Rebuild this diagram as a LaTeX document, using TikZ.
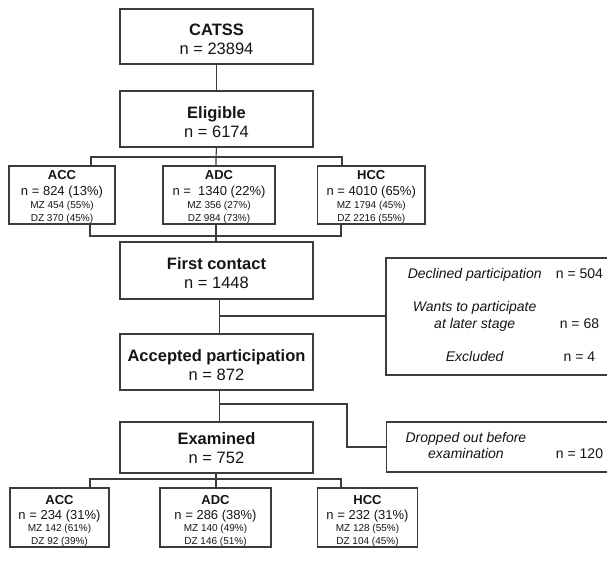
\documentclass[tikz,border=0pt]{standalone}
\usepackage{fontspec}
\setmainfont{Liberation Sans}
\definecolor{linecol}{HTML}{3C3C3C}
\definecolor{txtcol}{HTML}{151515}
\newcommand{\bigfont}{\fontsize{16.5}{19}\selectfont}
\newcommand{\midfont}{\fontsize{13}{15}\selectfont}
\newcommand{\sidefont}{\fontsize{14}{16.6}\selectfont}
\begin{document}
\begin{tikzpicture}[x=1pt,y=-1pt,
  box/.style={draw=linecol, line width=1.1pt, fill=white, inner sep=0pt, align=center, text=txtcol},
  bigbox/.style={box, minimum width=193pt, font=\bigfont},
  smallbox/.style={box, minimum height=58pt, font=\fontsize{10}{13}\selectfont},
  sidebox/.style={box, minimum width=226pt, font=\sidefont},
  conn/.style={draw=linecol, line width=1.1pt}]
\fill[white] (0,0) rectangle (607,581);
\useasboundingbox (0,0) rectangle (607,581);

% main column
\node[bigbox, minimum height=55pt] (catss) at (216.5,36.5) {\rule{0pt}{17.8pt}\bfseries CATSS\\ n = 23894};
\node[bigbox, minimum height=56pt] (elig) at (216.5,119) {\rule{0pt}{17.8pt}\bfseries Eligible\\ n = 6174};
\node[bigbox, minimum height=57pt] (first) at (216.5,270.5) {\rule{0pt}{17.8pt}\bfseries First contact\\ n = 1448};
\node[bigbox, minimum height=56pt] (accp) at (216.5,362) {\rule{0pt}{17.8pt}\bfseries Accepted participation\\ n = 872};
\node[bigbox, minimum height=51pt] (exam) at (216.5,447.5) {\rule{0pt}{13pt}\bfseries Examined\\ n = 752};

% first row of groups
\node[smallbox, minimum width=106pt] (acc1) at (62,195) {{\midfont\rule{0pt}{12.3pt}\bfseries ACC}\\[3.5pt]{\midfont n = 824 (13\%)}\\[-0.5pt]MZ 454 (55\%)\\DZ 370 (45\%)};
\node[smallbox, minimum width=112pt] (adc1) at (219,195) {{\midfont\rule{0pt}{12.3pt}\bfseries ADC}\\[3.5pt]{\midfont n =\ \ 1340 (22\%)}\\[-0.5pt]MZ 356 (27\%)\\DZ 984 (73\%)};
\node[smallbox, minimum width=107.5pt] (hcc1) at (371.25,195) {{\midfont\rule{0pt}{12.3pt}\bfseries HCC}\\[3.5pt]{\midfont n = 4010 (65\%)}\\[-0.5pt]MZ 1794 (45\%)\\DZ 2216 (55\%)};

% second row of groups
\node[smallbox, minimum width=99pt, minimum height=59pt] (acc2) at (59.5,517.5) {{\midfont\rule{0pt}{17pt}\bfseries ACC}\\[1.5pt]{\midfont n = 234 (31\%)}\\[-0.5pt]MZ 142 (61\%)\\DZ 92 (39\%)};
\node[smallbox, minimum width=111pt, minimum height=59pt] (adc2) at (215.5,517.5) {{\midfont\rule{0pt}{17pt}\bfseries ADC}\\[1.5pt]{\midfont n = 286 (38\%)}\\[-0.5pt]MZ 140 (49\%)\\DZ 146 (51\%)};
\node[smallbox, minimum width=100pt, minimum height=59pt] (hcc2) at (367.5,517.5) {{\midfont\rule{0pt}{17pt}\bfseries HCC}\\[1.5pt]{\midfont n = 232 (31\%)}\\[-0.5pt]MZ 128 (55\%)\\DZ 104 (45\%)};

% side boxes
\node[sidebox, minimum height=117pt] (excl) at (499,316.5) {%
  \begin{tabular}{@{\hspace{12.8pt}}c@{\hspace{14.3pt}}c@{}}
  \itshape Declined participation & n = 504\\[16.6pt]
  \itshape Wants to participate & \\
  \itshape at later stage & n = 68\\[16.6pt]
  \itshape Excluded & n = 4
  \end{tabular}};
\node[sidebox, minimum height=50pt] (drop) at (499.5,447) {%
  \begin{tabular}{@{\hspace{9.7pt}}c@{\hspace{29.7pt}}c@{}}
  \itshape Dropped out before & \\
  \itshape examination & n = 120
  \end{tabular}};

% connectors
\draw[conn] (catss) -- (elig);

\coordinate (t1) at (216,157);
\coordinate (tl1) at (91,157);
\coordinate (tr1) at (342,157);
\draw[conn] (elig.south) -- (t1) -- (adc1.north -| t1);
\draw[conn] (acc1.north -| tl1) -- (tl1) -- (tr1) -- (hcc1.north -| tr1);

\coordinate (bm1) at (216,236);
\coordinate (bl1) at (90,236);
\coordinate (br1) at (341,236);
\draw[conn] (acc1.south -| bl1) -- (bl1) -- (br1) -- (hcc1.south -| br1);
\draw[conn] (adc1.south -| bm1) -- (first.north -| bm1);

\coordinate (j1) at (219.5,316);
\draw[conn] (first.south -| j1) -- (accp.north -| j1);
\draw[conn] (j1) -- (excl.west |- j1);

\coordinate (j2) at (219.5,404);
\coordinate (k2) at (347,404);
\draw[conn] (accp.south -| j2) -- (exam.north -| j2);
\draw[conn] (j2) -- (k2) -- (k2 |- drop.west) -- (drop.west);

\coordinate (bm2) at (216,479);
\coordinate (bl2) at (90,479);
\coordinate (br2) at (341,479);
\draw[conn] (exam.south -| bm2) -- (adc2.north -| bm2);
\draw[conn] (acc2.north -| bl2) -- (bl2) -- (br2) -- (hcc2.north -| br2);
\end{tikzpicture}
\end{document}
